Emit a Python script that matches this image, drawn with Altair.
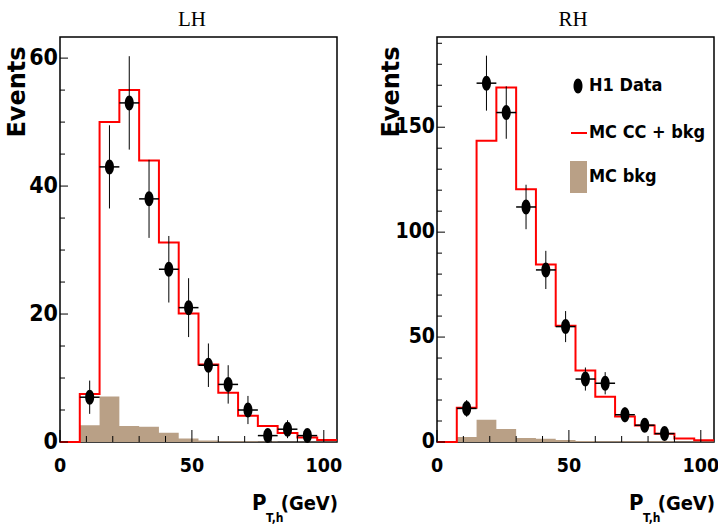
import altair as alt
import pandas as pd

# Histogram binning of the hadronic transverse momentum P_T,h (GeV)
EDGES = [0, 7.5, 15, 22.5, 30, 37.5, 45, 52.5, 60, 67.5, 75, 82.5, 90, 97.5, 105]

# LH sample: MC CC + bkg, MC bkg (per bin), H1 data points starting at the 7.5-15 GeV bin
LH_MC = [0, 7.5, 50, 55, 44, 31.2, 20.1, 12.1, 7.7, 4.1, 2.5, 1.4, 0.7, 0.3]
LH_BKG = [0, 2.6, 7.1, 2.5, 2.4, 1.45, 0.55, 0.25, 0.12, 0.1, 0.08, 0.05, 0.03, 0.02]
LH_DATA = [7, 43, 53, 38, 27, 21, 12, 9, 5, 1, 2, 1]
LH_ERR = [2.6, 6.5, 7.3, 6.1, 5.2, 4.6, 3.4, 3.0, 2.2, 1.0, 1.4, 1.0]

# RH sample
RH_MC = [0, 16.3, 143.6, 168.9, 120.5, 84.6, 55.4, 34.1, 21.6, 12.2, 7.9, 3.9, 1.7, 0.8]
RH_BKG = [0, 2.4, 10.6, 6.2, 1.9, 1.5, 0.9, 0.5, 0.4, 0.3, 0.3, 0.3, 0.2, 0.2]
RH_DATA = [16, 171, 157, 112, 82, 55, 30, 28, 13, 8, 4]
RH_ERR = [4.0, 13.1, 12.5, 10.6, 9.1, 7.4, 5.5, 5.3, 3.6, 2.8, 2.0]

# Axis ticks
X_MAJOR = [0, 50, 100]
X_MINOR = [10, 20, 30, 40, 60, 70, 80, 90]
LH_Y_MAJOR = [0, 20, 40, 60]
LH_Y_MINOR = [5, 10, 15, 25, 30, 35, 45, 50, 55]
RH_Y_MAJOR = [0, 50, 100, 150]
RH_Y_MINOR = [10, 20, 30, 40, 60, 70, 80, 90, 110, 120, 130, 140, 160, 170, 180, 190]

LEGEND_LABELS = ["H1 Data", "MC CC + bkg", "MC bkg"]
X_TITLE = ["P", "T,h", "(GeV)"]
Y_TITLE = "Events"

PANEL_W, PANEL_H, GAP = 277, 405, 100
X_DOMAIN = [0, 105]

SANS = "Liberation Sans Narrow, DejaVu Sans Condensed, Liberation Sans, Arial, sans-serif"
RED = "#ff0000"
BROWN = "#b9a086"
# elliptical marker for the data points
ELLIPSE = "M0,-1A0.6,1,0,1,1,0,1A0.6,1,0,1,1,0,-1Z"


def text_layer(txt, x, y, size, align="left", baseline="alphabetic", font=SANS,
               weight="bold", angle=0):
    return alt.Chart(pd.DataFrame({"t": [txt]})).mark_text(
        font=font, fontWeight=weight, fontSize=size, align=align, baseline=baseline,
        color="black", angle=angle,
    ).encode(text="t:N", x=alt.value(x), y=alt.value(y))


def panel(label, mc, bkg, data, err, ymax, y_major, y_minor, x0, title_dx,
          ylab_size, ytitle_dx, legend=False):
    xs = alt.Scale(domain=X_DOMAIN, range=[x0, x0 + PANEL_W], nice=False, zero=False)
    ys = alt.Scale(domain=[0, ymax], range=[PANEL_H, 0], nice=False, zero=False)

    hist = pd.DataFrame({"pt": EDGES, "mc": mc + [mc[-1]], "bkg": bkg + [bkg[-1]]})
    n = len(data)
    pts = pd.DataFrame({
        "lo": EDGES[1:1 + n],
        "hi": EDGES[2:2 + n],
        "n": data,
        "err": err,
    })
    pts["pt"] = (pts["lo"] + pts["hi"]) / 2
    pts["n_lo"] = pts["n"] - pts["err"]
    pts["n_hi"] = pts["n"] + pts["err"]

    frame = alt.Chart(pd.DataFrame({"p": [label]})).mark_rect(
        fill=None, stroke="black", strokeWidth=1.5
    ).encode(
        x=alt.value(x0), x2=alt.value(x0 + PANEL_W), y=alt.value(0), y2=alt.value(PANEL_H)
    )

    bkg_area = alt.Chart(hist).mark_area(interpolate="step-after", color=BROWN).encode(
        x=alt.X("pt:Q", scale=xs, axis=None),
        y=alt.Y("bkg:Q", scale=ys, axis=None),
    )
    mc_line = alt.Chart(hist).mark_line(interpolate="step-after", color=RED, strokeWidth=2).encode(
        x=alt.X("pt:Q", scale=xs, axis=None),
        y=alt.Y("mc:Q", scale=ys, axis=None),
    )
    vbar = alt.Chart(pts).mark_rule(color="black", strokeWidth=1).encode(
        x=alt.X("pt:Q", scale=xs, axis=None),
        y=alt.Y("n_lo:Q", scale=ys, axis=None),
        y2="n_hi:Q",
    )
    hbar = alt.Chart(pts).mark_rule(color="black", strokeWidth=1.5).encode(
        x=alt.X("lo:Q", scale=xs, axis=None),
        x2="hi:Q",
        y=alt.Y("n:Q", scale=ys, axis=None),
    )
    dots = alt.Chart(pts).mark_point(shape=ELLIPSE, size=225, filled=True,
                                     color="black", opacity=1).encode(
        x=alt.X("pt:Q", scale=xs, axis=None),
        y=alt.Y("n:Q", scale=ys, axis=None),
    )

    # ticks drawn inside the frame
    def yticks(vals, length):
        return alt.Chart(pd.DataFrame({"v": vals})).mark_rule(color="black", strokeWidth=1).encode(
            y=alt.Y("v:Q", scale=ys, axis=None),
            x=alt.value(x0),
            x2=alt.value(x0 + length),
        )

    def xticks(vals, length):
        return alt.Chart(pd.DataFrame({"v": vals})).mark_rule(color="black", strokeWidth=1).encode(
            x=alt.X("v:Q", scale=xs, axis=None),
            y=alt.value(PANEL_H),
            y2=alt.value(PANEL_H - length),
        )

    # tick labels
    ylabels = alt.Chart(pd.DataFrame({"v": y_major})).mark_text(
        font=SANS, fontWeight="bold", fontSize=ylab_size, align="right", baseline="middle",
        color="black",
    ).encode(
        y=alt.Y("v:Q", scale=ys, axis=None),
        x=alt.value(x0 - 2),
        text=alt.Text("v:Q", format="d"),
    )
    xlabels = alt.Chart(pd.DataFrame({"v": X_MAJOR})).mark_text(
        font=SANS, fontWeight="bold", fontSize=19.5, align="center", baseline="alphabetic",
        color="black",
    ).encode(
        x=alt.X("v:Q", scale=xs, axis=None),
        y=alt.value(PANEL_H + 30),
        text=alt.Text("v:Q", format="d"),
    )

    head = text_layer(label, x0 + title_dx, -11, 21, align="center",
                      font="Liberation Serif", weight="normal")
    ytitle = text_layer(Y_TITLE, x0 + ytitle_dx, 55, 24, align="center", baseline="middle",
                        font="DejaVu Sans", angle=270)
    xt_p = text_layer(X_TITLE[0], x0 + 192, 473, 22)
    xt_sub = text_layer(X_TITLE[1], x0 + 206, 485, 12)
    xt_unit = text_layer(X_TITLE[2], x0 + PANEL_W + 1, 473, 20, align="right")

    layers = [frame, bkg_area, mc_line, vbar, hbar, dots,
              yticks(y_major, 8), yticks(y_minor, 5), xticks(X_MAJOR, 12), xticks(X_MINOR, 6),
              ylabels, xlabels, head, ytitle, xt_p, xt_sub, xt_unit]

    if legend:
        leg_dot = alt.Chart(pd.DataFrame({"t": [LEGEND_LABELS[0]]})).mark_point(
            shape=ELLIPSE, size=225, filled=True, color="black", opacity=1
        ).encode(x=alt.value(x0 + 141), y=alt.value(49))
        leg_line = alt.Chart(pd.DataFrame({"t": [LEGEND_LABELS[1]]})).mark_rule(
            color=RED, strokeWidth=2
        ).encode(x=alt.value(x0 + 134), x2=alt.value(x0 + 150), y=alt.value(96))
        leg_box = alt.Chart(pd.DataFrame({"t": [LEGEND_LABELS[2]]})).mark_rect(color=BROWN).encode(
            x=alt.value(x0 + 133), x2=alt.value(x0 + 150), y=alt.value(124), y2=alt.value(156)
        )
        layers += [leg_dot, leg_line, leg_box]
        for txt, yy in zip(LEGEND_LABELS, [49, 96, 140]):
            layers.append(text_layer(txt, x0 + 152, yy, 18, baseline="middle"))

    return alt.layer(*layers)


left = panel("LH", LH_MC, LH_BKG, LH_DATA, LH_ERR, 63.3, LH_Y_MAJOR, LH_Y_MINOR, 0, 132,
             23, -42)
right = panel("RH", RH_MC, RH_BKG, RH_DATA, RH_ERR, 193, RH_Y_MAJOR, RH_Y_MINOR,
              PANEL_W + GAP, 136, 21, -45, legend=True)

chart = alt.layer(left, right).resolve_scale(
    x="independent", y="independent"
).properties(
    width=2 * PANEL_W + GAP,
    height=PANEL_H,
    padding={"left": 60, "top": 37, "right": 4, "bottom": 90},
    autosize=alt.AutoSizeParams(type="none"),
    background="white",
).configure_view(
    stroke=None
)

chart.save("out.html", embed_options={"renderer": "svg", "actions": False})
